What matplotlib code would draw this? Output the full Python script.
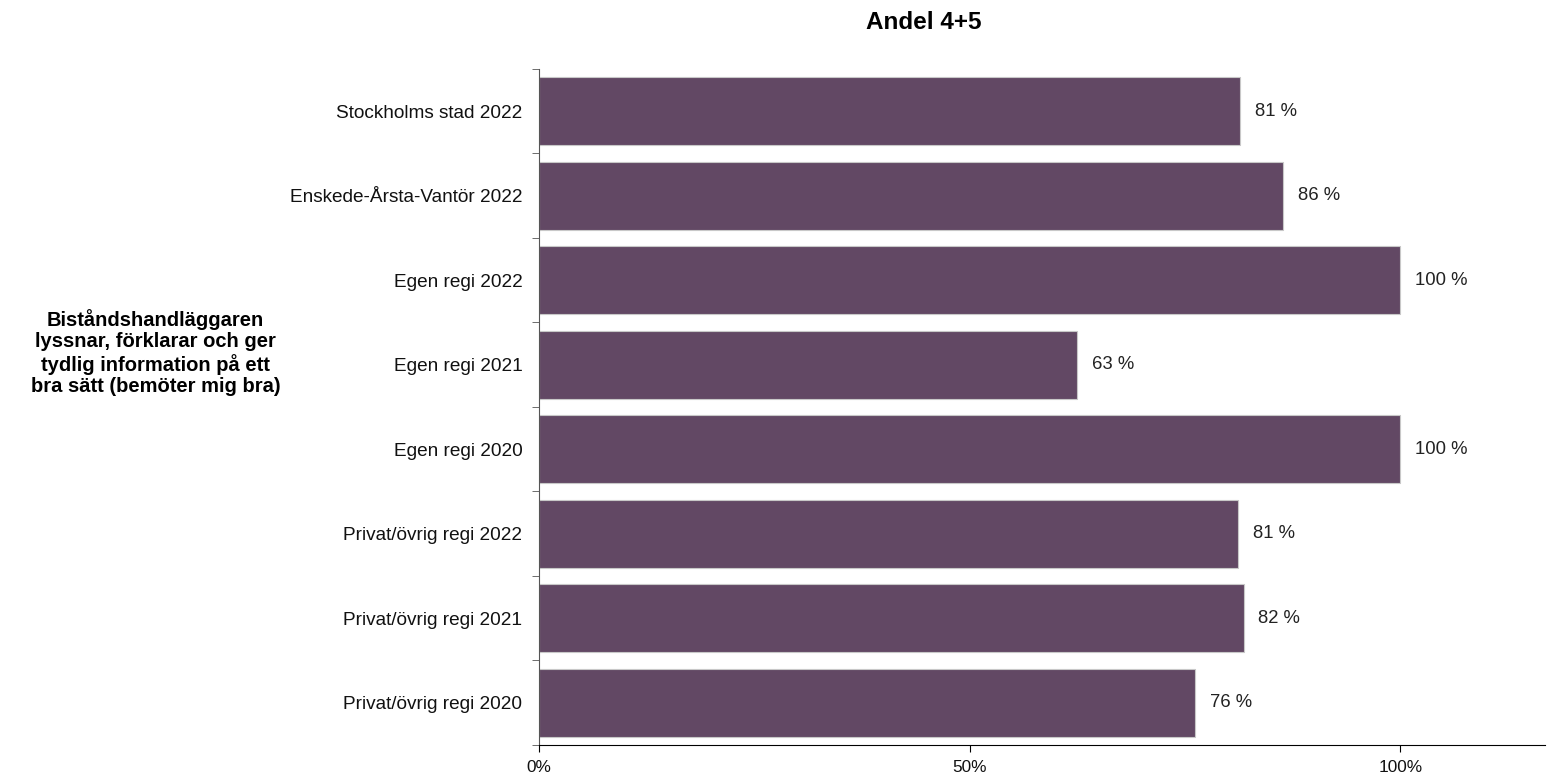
import matplotlib.pyplot as plt
import numpy as np

plt.rcParams['font.family'] = ['Liberation Sans', 'DejaVu Sans']

categories = ['Stockholms stad 2022', 'Enskede-Årsta-Vantör 2022', 'Egen regi 2022',
              'Egen regi 2021', 'Egen regi 2020', 'Privat/övrig regi 2022',
              'Privat/övrig regi 2021', 'Privat/övrig regi 2020']
values = [0.814, 0.864, 1.0, 0.625, 1.0, 0.812, 0.818, 0.762]
labels = ['81 %', '86 %', '100 %', '63 %', '100 %', '81 %', '82 %', '76 %']
xticks = [0, 0.5, 1.0]
xticklabels = ['0%', '50%', '100%']

fig = plt.figure(figsize=(15.61, 7.74), dpi=100)
ax = fig.add_axes([0.3453, 0.0375, 0.6445, 0.8734])

y = np.arange(len(categories))
ax.barh(y, values, height=0.8, color='#624864', edgecolor='#c8c8c8', linewidth=0.8)

# value labels to the right of each bar
for yi, v, lab in zip(y, values, labels):
    ax.text(v + 0.017, yi, lab, va='center', ha='left', fontsize=13.3, color='#222222')

ax.set_ylim(len(categories) - 0.5, -0.5)
ax.set_xlim(0, 1.168)
ax.set_yticks(y)
ax.set_yticklabels(categories, fontsize=13.7, color='#111111')
ax.set_yticks(np.arange(-0.5, len(categories)), minor=True)
ax.tick_params(axis='y', which='major', length=0, pad=12)
ax.tick_params(axis='y', which='minor', length=5, color='#555555')
ax.set_xticks(xticks)
ax.set_xticklabels(xticklabels, fontsize=12.4, color='#111111')
ax.tick_params(axis='x', length=5, pad=5.5)

ax.spines['top'].set_visible(False)
ax.spines['right'].set_visible(False)
ax.spines['left'].set_color('#555555')
ax.spines['bottom'].set_color('black')

fig.text(0.592, 0.971, 'Andel 4+5', ha='center', va='center', fontsize=17.5, fontweight='bold')
fig.text(0.0996, 0.5446, 'Biståndshandläggaren\nlyssnar, förklarar och ger\ntydlig information på ett\nbra sätt (bemöter mig bra)',
         ha='center', va='center', fontsize=14.5, fontweight='bold', linespacing=1.16)

fig.savefig('out.png', dpi=100)
